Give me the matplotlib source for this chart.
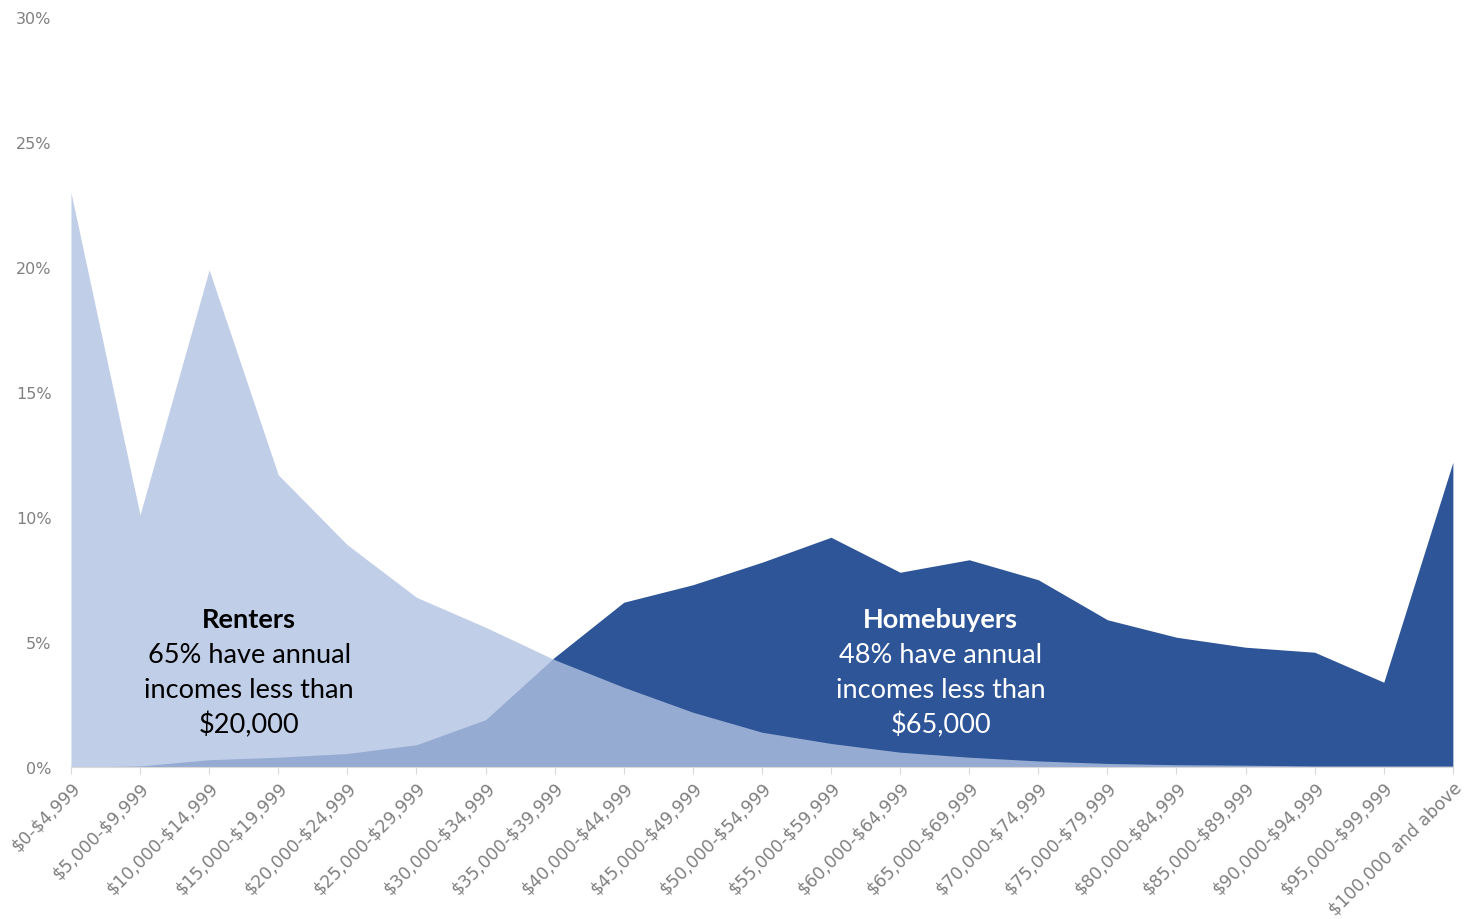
import numpy as np
import matplotlib.pyplot as plt

categories = ['$0-$4,999', '$5,000-$9,999', '$10,000-$14,999', '$15,000-$19,999',
              '$20,000-$24,999', '$25,000-$29,999', '$30,000-$34,999', '$35,000-$39,999',
              '$40,000-$44,999', '$45,000-$49,999', '$50,000-$54,999', '$55,000-$59,999',
              '$60,000-$64,999', '$65,000-$69,999', '$70,000-$74,999', '$75,000-$79,999',
              '$80,000-$84,999', '$85,000-$89,999', '$90,000-$94,999', '$95,000-$99,999',
              '$100,000 and above']

renters = [23.0, 10.1, 19.9, 11.7, 8.9, 6.8, 5.6, 4.3, 3.2, 2.2, 1.4,
           0.95, 0.6, 0.4, 0.25, 0.15, 0.1, 0.08, 0.05, 0.05, 0.05]
homebuyers = [0.0, 0.05, 0.3, 0.4, 0.55, 0.9, 1.9, 4.4, 6.6, 7.3, 8.2,
              9.2, 7.8, 8.3, 7.5, 5.9, 5.2, 4.8, 4.6, 3.4, 12.2]

yticks = [0, 5, 10, 15, 20, 25, 30]

renters_note = ['Renters', '65% have annual', 'incomes less than', '$20,000']
buyers_note = ['Homebuyers', '48% have annual', 'incomes less than', '$65,000']

plt.rcParams['text.parse_math'] = False

x = np.arange(len(categories))

fig = plt.figure(figsize=(14.78, 9.2), dpi=100)
ax = fig.add_axes([0.048, 0.165, 0.935, 0.815])

ax.fill_between(x, 0, homebuyers, color='#2e5597', linewidth=0)
ax.fill_between(x, 0, renters, color='#b1c2e2', alpha=0.8, linewidth=0)

ax.set_xlim(0, len(categories) - 1)
ax.set_ylim(0, 30)
ax.set_yticks(yticks)
ax.set_yticklabels([f'{t}%' for t in yticks], color='#808080', fontsize=11.5)
ax.set_xticks(x)
ax.set_xticklabels(categories, rotation=45, ha='right', rotation_mode='anchor',
                   color='#808080', fontsize=12.5)
ax.tick_params(axis='y', length=0, pad=14)
ax.tick_params(axis='x', length=5, color='#d9d9d9', pad=3)

for s in ['top', 'right', 'left']:
    ax.spines[s].set_visible(False)
ax.spines['bottom'].set_color('#d9d9d9')

# annotation lines, one per row
fnt = 'Lato'
rows = [5.92, 4.52, 3.12, 1.72]
for i, (r, b) in enumerate(zip(renters_note, buyers_note)):
    w = 'bold' if i == 0 else 'normal'
    ax.text(2.58, rows[i], r, ha='center', va='center', fontsize=19.5,
            fontweight=w, family=fnt, color='black')
    ax.text(12.59, rows[i], b, ha='center', va='center', fontsize=19.5,
            fontweight=w, family=fnt, color='white')

fig.savefig('out.png', dpi=100)
